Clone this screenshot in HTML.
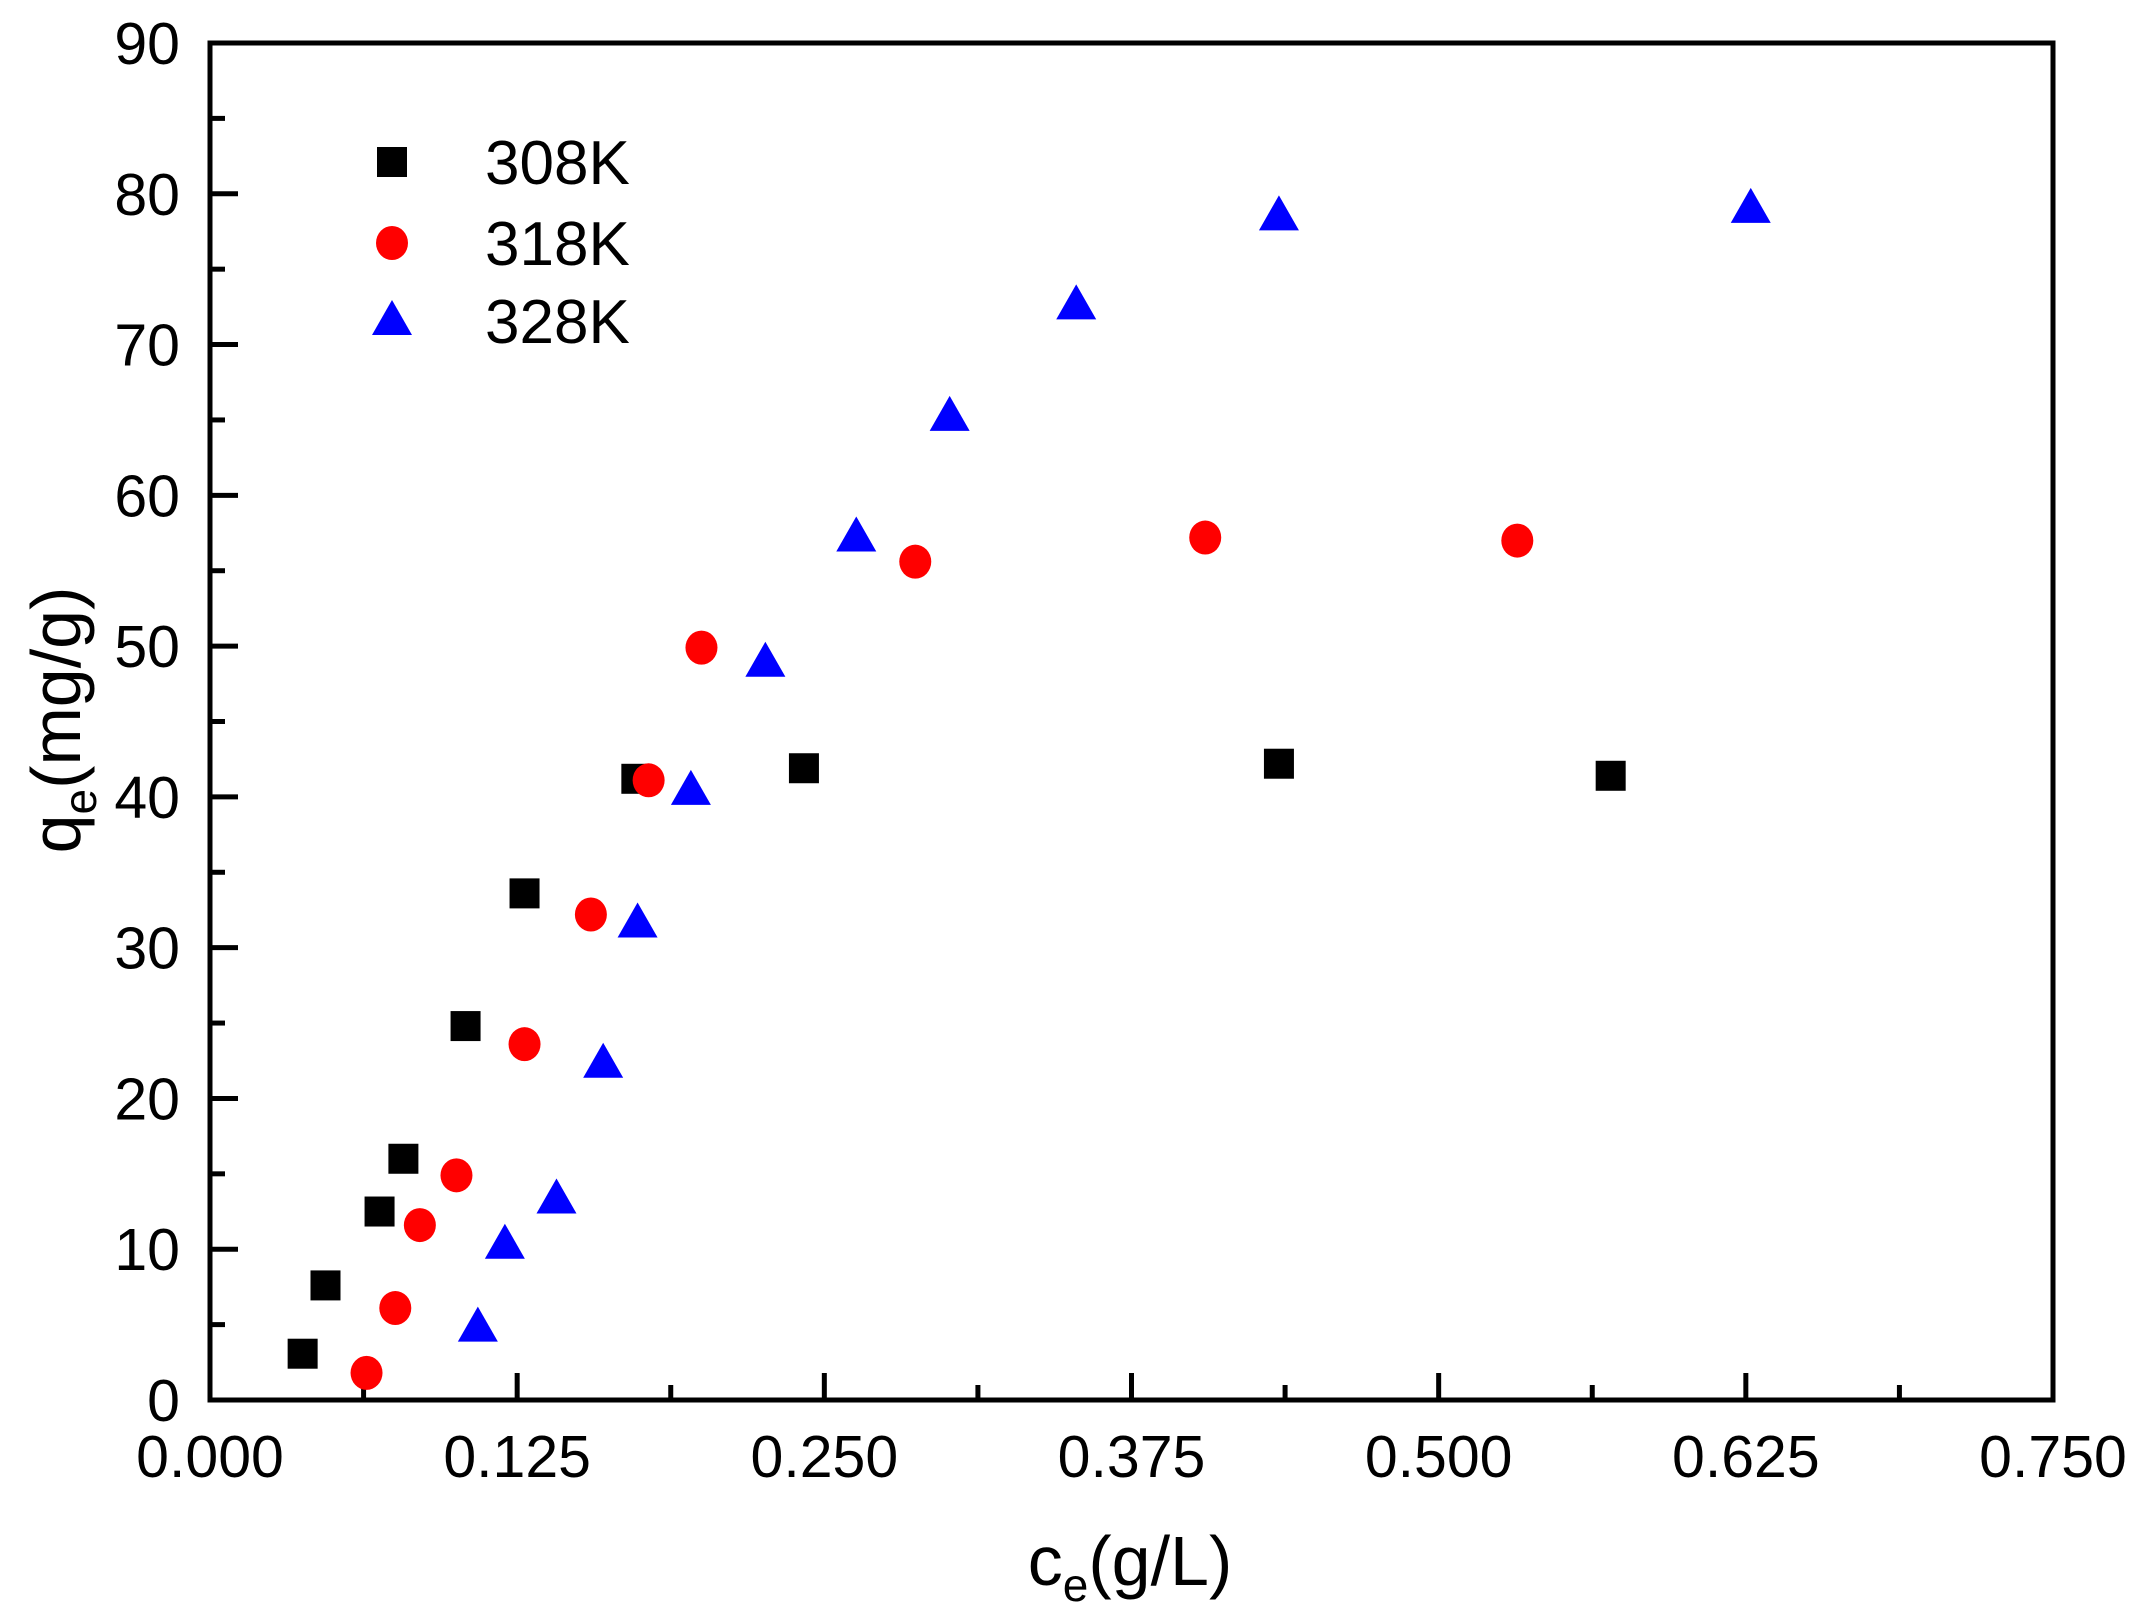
<!DOCTYPE html>
<html><head><meta charset="utf-8"><style>
html,body{margin:0;padding:0;background:#fff;}
svg{display:block;font-family:"Liberation Sans",Arial,sans-serif;}
</style></head><body>
<svg id="chart" width="2133" height="1623" viewBox="0 0 2133 1623" xmlns="http://www.w3.org/2000/svg">
<g id="axes"></g>
<g id="marks"></g>
<g id="legend"></g>
<text transform="translate(80,720) rotate(-90)" text-anchor="middle" font-size="70">q<tspan font-size="46" dy="16">e</tspan><tspan dy="-16">(mg/g)</tspan></text>
<text x="1130" y="1585" text-anchor="middle" font-size="70">c<tspan font-size="46" dy="16">e</tspan><tspan dy="-16">(g/L)</tspan></text>
</svg>
<script>
const xTicks=[0,0.125,0.25,0.375,0.5,0.625,0.75];
const xTickLabels=["0.000","0.125","0.250","0.375","0.500","0.625","0.750"];
const yTicks=[0,10,20,30,40,50,60,70,80,90];
const seriesNames=["308K","318K","328K"];
const x308=[0.0377,0.047,0.069,0.0787,0.104,0.128,0.1735,0.2417,0.435,0.570];
const y308=[3.07,7.6,12.5,16.0,24.8,33.6,41.2,41.9,42.2,41.4];
const x318=[0.0637,0.0754,0.0854,0.1003,0.128,0.155,0.1785,0.200,0.287,0.405,0.532];
const y318=[1.8,6.1,11.6,14.9,23.6,32.2,41.1,49.9,55.6,57.2,57.0];
const x328=[0.109,0.120,0.141,0.160,0.174,0.1957,0.226,0.263,0.301,0.3525,0.435,0.627];
const y328=[4.8,10.3,13.3,22.3,31.6,40.4,48.9,57.2,65.2,72.6,78.5,79.0];

const L=210,R=2053,T=43,B=1400;
const sx=v=>L+(v-0)/(0.75)*(R-L);
const sy=v=>B-(v/90)*(B-T);
const NS="http://www.w3.org/2000/svg";
function mk(tag,attrs,parent){const e=document.createElementNS(NS,tag);for(const k in attrs)e.setAttribute(k,attrs[k]);parent.appendChild(e);return e;}
const axes=document.getElementById('axes');
const frame=mk('rect',{x:L,y:T,width:R-L,height:B-T,fill:'none',stroke:'#000','stroke-width':5},axes);


xTicks.forEach((v,i)=>{
  const t=mk('line',{x1:sx(v),x2:sx(v),y1:B,y2:B-27,stroke:'#000','stroke-width':5},axes);
  
  
  if(i<xTicks.length-1){
    const m=mk('line',{x1:sx(v+0.0625),x2:sx(v+0.0625),y1:B,y2:B-15,stroke:'#000','stroke-width':5},axes);
    
    
  }
  const lb=mk('text',{x:sx(v),y:1477,'text-anchor':'middle','font-size':59},axes);
  lb.textContent=xTickLabels[i];
  
  
});
yTicks.forEach((v,i)=>{
  const t=mk('line',{x1:L,x2:L+28,y1:sy(v),y2:sy(v),stroke:'#000','stroke-width':5},axes);
  
  
  if(i<yTicks.length-1){
    const m=mk('line',{x1:L,x2:L+15,y1:sy(v+5),y2:sy(v+5),stroke:'#000','stroke-width':5},axes);
    
    
  }
  const lb=mk('text',{x:180,y:sy(v)+21,'text-anchor':'end','font-size':59},axes);
  lb.textContent=String(v);
  
  
});
const marks=document.getElementById('marks');
function square(cx,cy,p,n){const e=mk('rect',{x:cx-15,y:cy-15,width:30,height:30,fill:'#000'},p);}
function circle(cx,cy,p,n){const e=mk('ellipse',{cx:cx,cy:cy,rx:16,ry:17,fill:'#ff0000'},p);}
function tri(cx,cy,p,n){const e=mk('polygon',{points:`${cx},${cy-21} ${cx-20},${cy+14} ${cx+20},${cy+14}`,fill:'#0000ff'},p);}
x308.forEach((v,i)=>square(sx(v),sy(y308[i]),marks,'point-308k'));
x318.forEach((v,i)=>circle(sx(v),sy(y318[i]),marks,'point-318k'));
x328.forEach((v,i)=>tri(sx(v),sy(y328[i]),marks,'point-328k'));
const lg=document.getElementById('legend');
const fns=[square,circle,tri];
const ly=[162,243,321];
seriesNames.forEach((n,i)=>{
  fns[i](392,ly[i],lg,'legend-marker');
  const t=mk('text',{x:485,y:ly[i]+22,'font-size':62},lg);
  t.textContent=n;
  
  
});
</script>
</body></html>
